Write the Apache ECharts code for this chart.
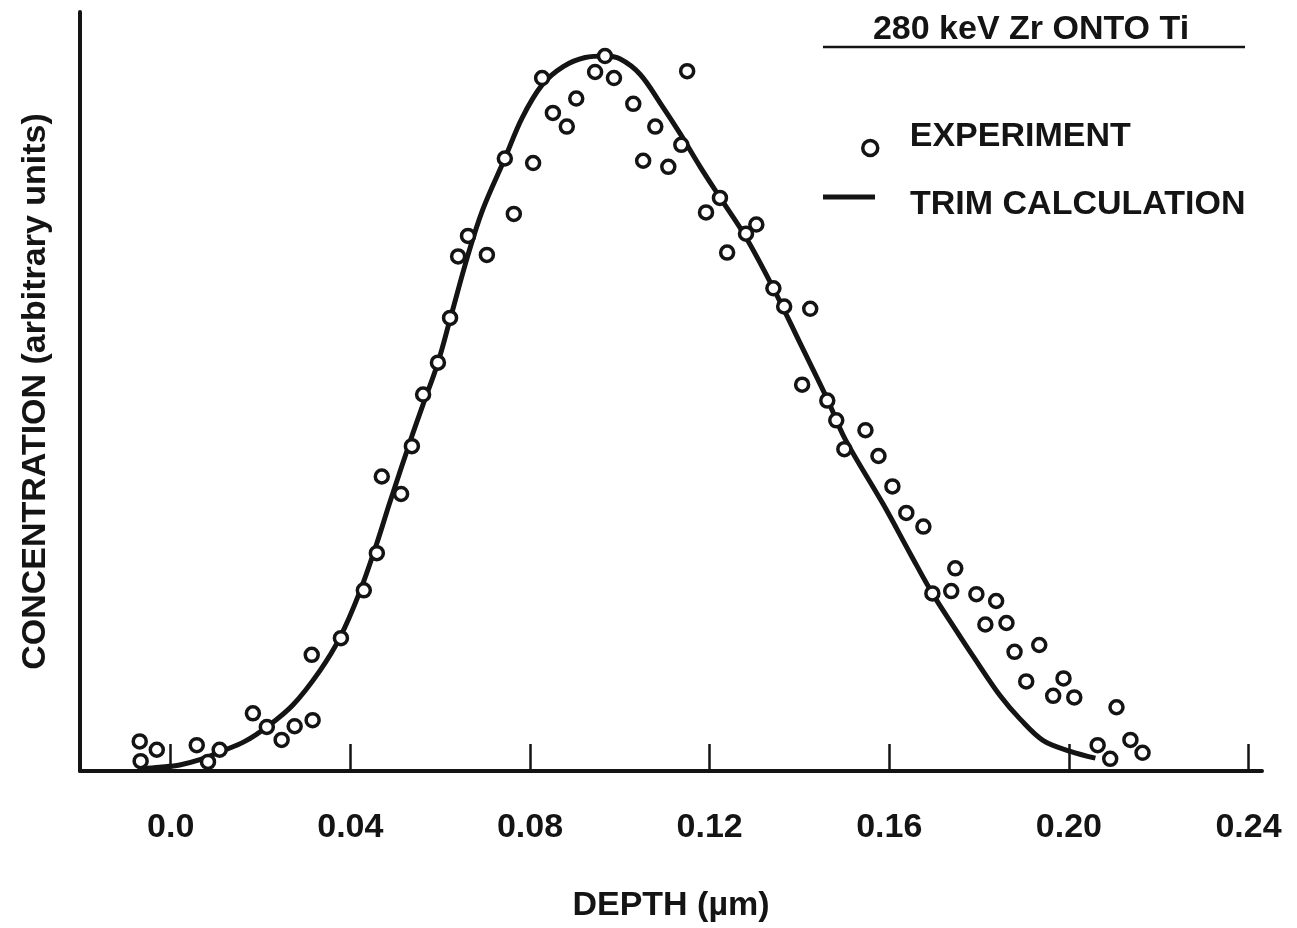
<!DOCTYPE html>
<html>
<head>
<meta charset="utf-8">
<script src="https://cdn.jsdelivr.net/npm/echarts@6/dist/echarts.min.js"></script>
<style>
html,body{margin:0;padding:0;background:#fff;}
#chart{width:1297px;height:928px;}
</style>
</head>
<body>
<div id="chart"></div>
<script>
// Experimental points: depth (µm)
const expDepth = [-0.0069,-0.0067,-0.0031,0.0058,0.0083,0.0109,0.0183,0.0214,0.0247,0.0276,0.0316,0.0314,0.0379,0.0430,0.0459,0.0470,0.0513,0.0537,0.0562,0.0595,0.0622,0.0640,0.0662,0.0704,0.0744,0.0764,0.0807,0.0827,0.0851,0.0882,0.0903,0.0945,0.0967,0.0987,0.1030,0.1052,0.1079,0.1108,0.1137,0.1150,0.1192,0.1223,0.1239,0.1281,0.1304,0.1342,0.1366,0.1406,0.1424,0.1462,0.1482,0.1500,0.1547,0.1576,0.1607,0.1638,0.1676,0.1696,0.1738,0.1747,0.1794,0.1814,0.1838,0.1861,0.1879,0.1905,0.1934,0.1965,0.1988,0.2012,0.2064,0.2092,0.2106,0.2137,0.2164];
// Experimental points: concentration (arbitrary units)
const expConc = [3.9,1.3,2.8,3.4,1.2,2.8,7.6,5.8,4.1,5.9,6.7,15.3,17.5,23.8,28.7,38.8,36.5,42.8,49.6,53.8,59.7,67.8,70.5,68.0,80.7,73.4,80.1,91.3,86.7,84.9,88.6,92.1,94.2,91.3,87.9,80.4,84.9,79.6,82.5,92.2,73.6,75.5,68.3,70.8,72.0,63.6,61.2,50.9,60.9,48.8,46.2,42.4,44.9,41.5,37.5,34.0,32.2,23.4,23.7,26.7,23.3,19.3,22.4,19.5,15.7,11.8,16.6,9.9,12.2,9.7,3.4,1.6,8.4,4.1,2.4];
// TRIM calculation curve
const trimDepth = [-0.0065,-0.0025,0.0020,0.0065,0.0109,0.0165,0.0214,0.0272,0.0332,0.0377,0.0421,0.0459,0.0488,0.0537,0.0562,0.0595,0.0622,0.0662,0.0695,0.0744,0.0782,0.0827,0.0874,0.0923,0.0967,0.1001,0.1045,0.1090,0.1134,0.1179,0.1226,0.1281,0.1342,0.1402,0.1462,0.1502,0.1587,0.1647,0.1696,0.1747,0.1787,0.1847,0.1892,0.1943,0.2003,0.2059];
const trimConc = [0.3,0.5,0.8,1.5,2.5,3.9,5.8,8.7,13.2,17.6,23.6,30.0,35.4,44.1,48.3,53.8,59.5,68.0,74.0,80.7,86.0,90.4,92.8,94.0,94.2,93.8,91.8,88.0,84.0,79.6,75.3,70.3,63.6,56.3,49.0,43.7,35.1,28.6,23.4,18.7,15.1,9.9,6.8,4.0,2.6,1.7];
// Axis ticks / labels
const xTicks = [0.0,0.04,0.08,0.12,0.16,0.20,0.24];
const xTickLabels = ['0.0','0.04','0.08','0.12','0.16','0.20','0.24'];
const titleText = '280 keV Zr ONTO Ti';
const seriesNames = ['EXPERIMENT','TRIM CALCULATION'];

const FONT = 'Liberation Sans, Arial, Helvetica, sans-serif';
const INK = '#141414';

const expData = expDepth.map((d,i)=>[d, expConc[i]]);
const trimData = trimDepth.map((d,i)=>[d, trimConc[i]]);

const chart = echarts.init(document.getElementById('chart'), null, {renderer:'canvas'});
chart.setOption({
  backgroundColor:'#ffffff',
  animation:false,
  grid:{left:80,right:35,top:12,bottom:156,containLabel:false},
  xAxis:{
    type:'value', min:-0.0202, max:0.2430,
    name:'DEPTH (\u00b5m)', nameLocation:'middle', nameGap:118,
    nameTextStyle:{fontFamily:FONT,fontSize:34,fontWeight:'bold',color:INK},
    axisLine:{show:true,onZero:false,lineStyle:{color:INK,width:4}},
    axisTick:{show:true,inside:true,length:27,lineStyle:{color:INK,width:2.5},customValues:xTicks},
    axisLabel:{show:true,margin:40,fontFamily:FONT,fontSize:34,fontWeight:'bold',color:INK,
      customValues:xTicks,
      formatter:function(v){ const i = xTicks.findIndex(t=>Math.abs(t-v)<1e-9); return i>=0?xTickLabels[i]:''; }},
    splitLine:{show:false}
  },
  yAxis:{
    type:'value', min:0, max:100,
    name:'CONCENTRATION (arbitrary units)', nameLocation:'middle', nameGap:27,
    nameTextStyle:{fontFamily:FONT,fontSize:34,fontWeight:'bold',color:INK},
    axisLine:{show:true,onZero:false,lineStyle:{color:INK,width:4}},
    axisTick:{show:false}, axisLabel:{show:false}, splitLine:{show:false}
  },
  legend:[
    {data:[seriesNames[0]], left:861, top:120, padding:0, itemWidth:15, itemHeight:15,
     itemStyle:{color:'#fff',borderColor:INK,borderWidth:3.5},
     formatter:'{a|{name}}',
     textStyle:{color:INK, rich:{a:{fontFamily:FONT,fontSize:34,fontWeight:'bold',color:INK,lineHeight:34,padding:[0,0,22,27]}}}},
    {data:[{name:seriesNames[1], icon:'rect'}], left:823, top:172, padding:0, itemWidth:52, itemHeight:5,
     itemStyle:{color:INK},
     formatter:'{a|{name}}',
     textStyle:{color:INK, rich:{a:{fontFamily:FONT,fontSize:34,fontWeight:'bold',color:INK,lineHeight:34,padding:[16,0,0,30]}}}}
  ],
  graphic:[
    {type:'text', x:1031, y:30, style:{text:titleText, fontFamily:FONT, fontSize:34, fontWeight:'bold', fill:INK, align:'center', verticalAlign:'middle'}},
    {type:'line', shape:{x1:823,y1:47,x2:1245,y2:47}, style:{stroke:INK,lineWidth:2.5}}
  ],
  series:[
    {name:seriesNames[1], type:'line', data:trimData, smooth:0.35, showSymbol:false, symbol:'none',
     lineStyle:{color:INK,width:5}, itemStyle:{color:INK}, z:2},
    {name:seriesNames[0], type:'scatter', data:expData, symbol:'circle', symbolSize:13,
     itemStyle:{color:'#ffffff',borderColor:INK,borderWidth:3.5,opacity:1}, z:3}
  ]
});
</script>
</body>
</html>
